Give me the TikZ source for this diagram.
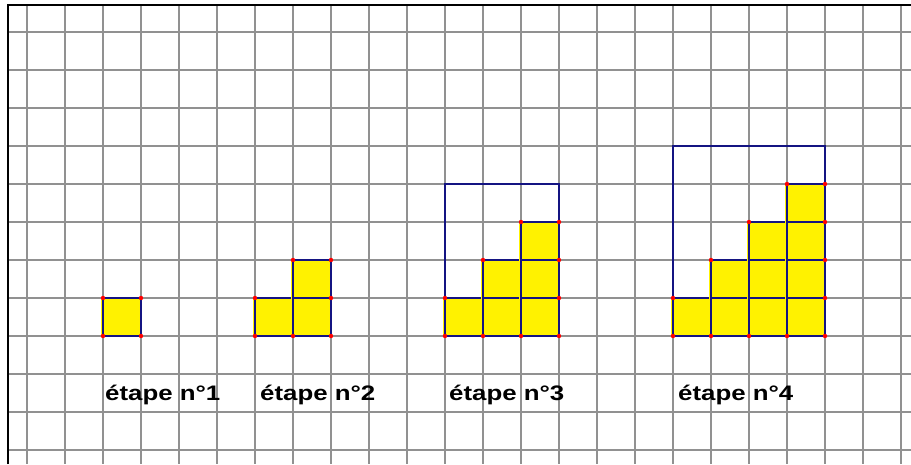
\documentclass[tikz,border=0pt]{standalone}
\usepackage{fontspec}
\setmainfont{Liberation Sans}
\usepackage{graphicx}
\definecolor{navyc}{RGB}{20,20,130}
\definecolor{gridc}{RGB}{145,145,145}
\begin{document}
\begin{tikzpicture}[x=1pt,y=-1pt,
  gridline/.style={draw=gridc, line width=1.7pt},
  cellbox/.style={fill=yellow, draw=navyc, line width=1.4pt},
  leftedge/.style={draw=yellow, line width=1.2pt},
  reddot/.style={fill=red, draw=none},
  bigframe/.style={draw=navyc, line width=1.3pt},
  lbl/.style={anchor=base west, inner sep=0pt, font=\bfseries\fontsize{21}{21}\selectfont}]
\useasboundingbox (0,0) rectangle (911,464);
\fill[white] (0,0) rectangle (911,464);
% grid
\foreach \i in {0,...,23} \draw[gridline] ({27+38*\i},5) -- ({27+38*\i},464);
\foreach \j in {0,...,11} \draw[gridline] (8,{32+38*\j}) -- (911,{32+38*\j});
\draw[black, line width=1.6pt] (8,464) -- (8,5) -- (911,5);
% big frames
\draw[bigframe] (445,336) rectangle (559,184);
\draw[bigframe] (673,336) rectangle (825,146);
% staircases
\foreach \x/\n in {103/1,255/2,445/3,673/4} {
  \foreach \c in {1,...,\n} {
    \foreach \j in {1,...,\c} {
      \draw[cellbox] ({\x+38*(\c-1)},{336-38*(\j-1)}) rectangle ({\x+38*\c},{336-38*\j});
    }
    \draw[leftedge] ({\x+38*(\c-1)-1.6},336) -- ({\x+38*(\c-1)-1.6},{336-38*\c});
  }
  \foreach \c in {0,...,\n} \fill[reddot] ({\x+38*\c},336) circle (2.2);
  \foreach \c in {1,...,\n} {
    \fill[reddot] ({\x+38*(\c-1)},{336-38*\c}) circle (2.2);
    \fill[reddot] ({\x+38*\n},{336-38*\c}) circle (2.2);
  }
}
% labels
\node[lbl] (l1) at (105,400) {\scalebox{1.23}[1]{étape n°1}};
\node[lbl] (l2) at (260,400) {\scalebox{1.23}[1]{étape n°2}};
\node[lbl] (l3) at (449,400) {\scalebox{1.23}[1]{étape n°3}};
\node[lbl] (l4) at (678,400) {\scalebox{1.23}[1]{étape n°4}};
\end{tikzpicture}
\end{document}
